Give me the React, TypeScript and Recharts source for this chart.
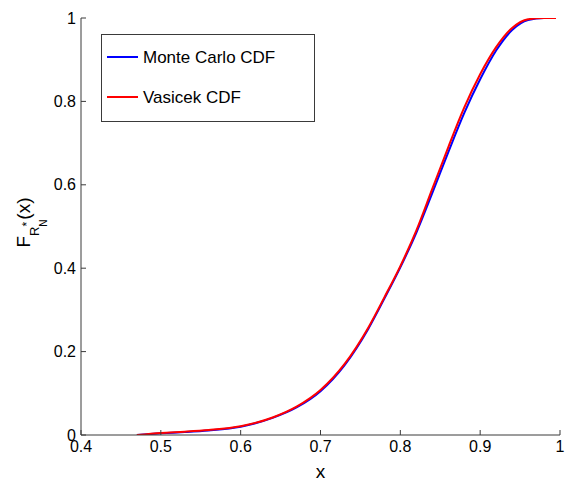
import { Legend, Line, LineChart, XAxis, YAxis } from 'recharts'

const xValues = [0.47, 0.5, 0.53, 0.56, 0.6, 0.64, 0.67, 0.7, 0.73, 0.76, 0.78, 0.8, 0.82, 0.84, 0.86, 0.88, 0.9, 0.92, 0.94, 0.96, 0.98, 0.995]
const monteCarlo = [0.0, 0.004, 0.007, 0.011, 0.02, 0.041, 0.066, 0.105, 0.167, 0.255, 0.327, 0.402, 0.485, 0.58, 0.678, 0.772, 0.853, 0.922, 0.971, 0.995, 1.0, 1.0]
const vasicek = [0.0, 0.005, 0.008, 0.012, 0.021, 0.042, 0.068, 0.108, 0.17, 0.258, 0.33, 0.405, 0.49, 0.59, 0.69, 0.785, 0.865, 0.93, 0.976, 0.997, 1.0, 1.0]
const xTicks = [0.4, 0.5, 0.6, 0.7, 0.8, 0.9, 1]
const yTicks = [0, 0.2, 0.4, 0.6, 0.8, 1]

const data = xValues.map((x, i) => ({ x, mc: monteCarlo[i], vas: vasicek[i] }))

const FONT = '"Liberation Sans", Arial, Helvetica, sans-serif'
const AXIS = '#3a3a3a'
const TICK_LEN = 5

function BottomTick({ x, y, payload }: any) {
  return (
    <g>
      <line x1={x} x2={x} y1={y} y2={y - TICK_LEN} stroke={AXIS} />
      <text x={x} y={y + 6} dy="0.71em" textAnchor="middle" fontSize={16} fontFamily={FONT} fill="#000">
        {payload.value}
      </text>
    </g>
  )
}

function LeftTick({ x, y, payload }: any) {
  return (
    <g>
      <line x1={x} x2={x + TICK_LEN} y1={y} y2={y} stroke={AXIS} />
      <text x={x - 5} y={y} dy="0.355em" textAnchor="end" fontSize={16} fontFamily={FONT} fill="#000">
        {payload.value}
      </text>
    </g>
  )
}

const TopTick = ({ x, y }: any) => <line x1={x} x2={x} y1={y} y2={y + TICK_LEN} stroke={AXIS} />
const RightTick = ({ x, y }: any) => <line x1={x} x2={x - TICK_LEN} y1={y} y2={y} stroke={AXIS} />

function YLabel({ viewBox }: any) {
  const cx = viewBox.x + 30
  const cy = viewBox.y + viewBox.height / 2 - 4
  return (
    <text transform={`translate(${cx}, ${cy}) rotate(-90)`} textAnchor="middle" fontFamily={FONT} fill="#000" fontSize={19}>
      F
      <tspan fontSize={13} dy={9}>R</tspan>
      <tspan fontSize={12} dy={-8}>*</tspan>
      <tspan fontSize={10} dy={16} dx={-5}>N</tspan>
      <tspan fontSize={19} dy={-17}>(x)</tspan>
    </text>
  )
}

function XLabel({ viewBox }: any) {
  return (
    <text x={viewBox.x + viewBox.width / 2} y={viewBox.y + 43} textAnchor="middle" fontFamily={FONT} fontSize={19} fill="#000">
      x
    </text>
  )
}

function LegendBox({ payload }: any) {
  const rows = payload ?? []
  return (
    <svg width={214} height={88} style={{ display: 'block' }}>
      <rect x={0.5} y={0.5} width={213} height={87} fill="#fff" stroke={AXIS} />
      {rows.map((entry: any, i: number) => {
        const cy = 23 + i * 40
        return (
          <g key={entry.value}>
            <line x1={6} x2={37} y1={cy} y2={cy} stroke={entry.color} strokeWidth={2} />
            <text x={42} y={cy} dy="0.36em" fontFamily={FONT} fontSize={17} fill="#000">{entry.value}</text>
          </g>
        )
      })}
    </svg>
  )
}

export default function App() {
  return (
    <div style={{ position: 'absolute', left: 0, top: 0, background: '#fff' }}>
      <LineChart width={567} height={485} data={data} margin={{ top: 18, right: 7, bottom: 0, left: 0 }}>
        <XAxis dataKey="x" xAxisId="bottom" type="number" domain={[0.4, 1]} ticks={xTicks} interval={0}
               allowDataOverflow height={50} tickSize={0} tickMargin={0} stroke={AXIS}
               tick={BottomTick} label={{ content: XLabel }} />
        <XAxis xAxisId="top" orientation="top" type="number" domain={[0.4, 1]} ticks={xTicks} interval={0}
               allowDataOverflow height={0} tickSize={0} tickMargin={0} stroke={AXIS} tick={TopTick} />
        <YAxis yAxisId="left" type="number" domain={[0, 1]} ticks={yTicks} interval={0} allowDataOverflow
               width={81} tickSize={0} tickMargin={0} stroke={AXIS} tick={LeftTick} label={{ content: YLabel }} />
        <YAxis yAxisId="right" orientation="right" type="number" domain={[0, 1]} ticks={yTicks} interval={0}
               allowDataOverflow width={0} tickSize={0} tickMargin={0} stroke={AXIS} tick={RightTick} />
        <Legend layout="vertical" align="center" verticalAlign="middle" content={LegendBox}
                wrapperStyle={{ left: 101, top: 34, width: 214, height: 88 }} />
        <Line xAxisId="bottom" yAxisId="left" type="monotone" dataKey="mc" name="Monte Carlo CDF"
              stroke="#0000ff" strokeWidth={2} dot={false} isAnimationActive={false} />
        <Line xAxisId="bottom" yAxisId="left" type="monotone" dataKey="vas" name="Vasicek CDF"
              stroke="#ff0000" strokeWidth={2} dot={false} isAnimationActive={false} />
      </LineChart>
    </div>
  )
}
